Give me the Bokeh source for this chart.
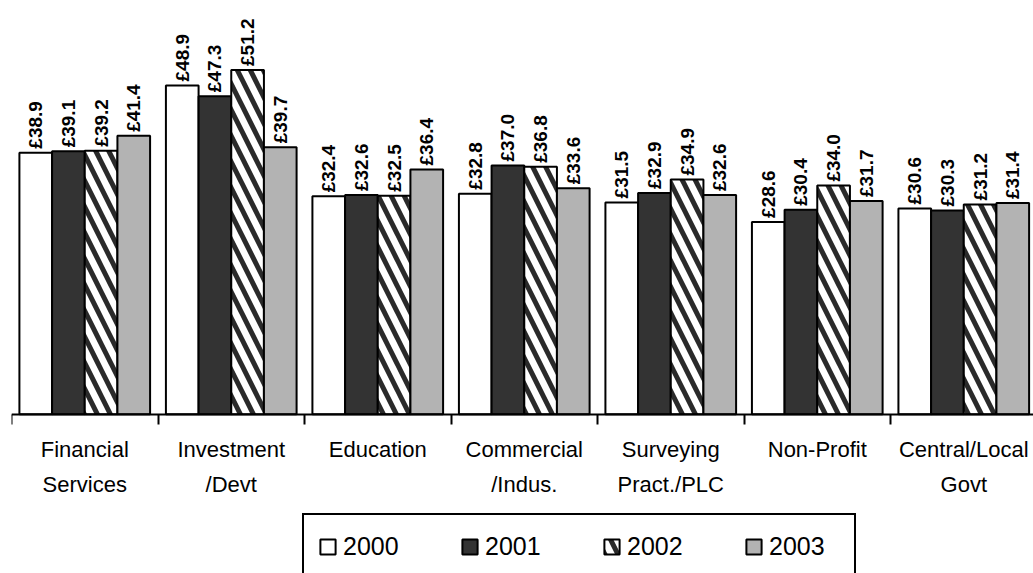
import numpy as np
from bokeh.plotting import figure
from bokeh.models import ColumnDataSource, FixedTicker, Range1d, Legend, LegendItem
from bokeh.transform import dodge
from bokeh.core.properties import value
from bokeh.embed import file_html
from bokeh.resources import INLINE

categories = ["Financial\nServices", "Investment\n/Devt", "Education", "Commercial\n/Indus.",
              "Surveying\nPract./PLC", "Non-Profit", "Central/Local\nGovt"]
years = ["2000", "2001", "2002", "2003"]
v2000 = [38.9, 48.9, 32.4, 32.8, 31.5, 28.6, 30.6]
v2001 = [39.1, 47.3, 32.6, 37.0, 32.9, 30.4, 30.3]
v2002 = [39.2, 51.2, 32.5, 36.8, 34.9, 34.0, 31.2]
v2003 = [41.4, 39.7, 36.4, 33.6, 32.6, 31.7, 31.4]
series = [v2000, v2001, v2002, v2003]

xs = [i + 0.5 for i in range(len(categories))]
data = {"x": xs, "cat": categories}
for y, vals in zip(years, series):
    data["v" + y] = vals
    data["l" + y] = ["£%.1f" % v for v in vals]
src = ColumnDataSource(data)

p = figure(width=1033, height=573, x_range=Range1d(0, 6.976), y_range=Range1d(-23.7, 59.9),
           output_backend="svg", toolbar_location=None, y_axis_location=None,
           min_border_left=11, min_border_right=0, min_border_top=11, min_border_bottom=0)
p.xgrid.visible = False
p.ygrid.visible = False
p.outline_line_color = None
p.background_fill_color = "white"
p.border_fill_color = "white"

bw = 0.223
offsets = [-1.5 * bw, -0.5 * bw, 0.5 * bw, 1.5 * bw]
styles = [
    dict(fill_color="white"),
    dict(fill_color="#333333"),
    dict(fill_color="white", hatch_pattern="\\", hatch_color="#2a2a2a", hatch_scale=26, hatch_weight=5),
    dict(fill_color="#b3b3b3"),
]
renderers = []
for y, off, st in zip(years, offsets, styles):
    r = p.vbar(x=dodge("x", off, range=p.x_range), top="v" + y, width=bw, source=src,
               line_color="black", line_width=2, **st)
    renderers.append(r)
    p.text(x=dodge("x", off, range=p.x_range), y="v" + y, text="l" + y, source=src,
           angle=np.pi / 2, text_align="left", text_baseline="middle", y_offset=-4,
           text_font=value("Liberation Sans"), text_font_style="bold",
           text_font_size="19px", text_color="black")

# x axis sitting on y = 0, ticks between the categories
ax = p.xaxis[0]
ax.fixed_location = 0
ax.ticker = FixedTicker(ticks=xs, minor_ticks=list(range(len(categories) + 1)))
ax.major_label_overrides = {x: "" for x in xs}
ax.major_label_text_font_size = "1px"
ax.major_label_standoff = 0
ax.major_tick_line_color = None
ax.major_tick_out = 0
ax.major_tick_in = 0
ax.minor_tick_out = 10
ax.minor_tick_in = 0
ax.minor_tick_line_color = "black"
ax.minor_tick_line_width = 2
ax.axis_line_color = "black"
ax.axis_line_width = 2

# category labels under the axis
p.text(x="x", y=0, text="cat", source=src, y_offset=23,
       text_align="center", text_baseline="top", line_height=1.4,
       text_font=value("Liberation Sans"), text_font_size="22px", text_color="black")

legend = Legend(items=[LegendItem(label=y, renderers=[r]) for y, r in zip(years, renderers)],
                orientation="horizontal", location=(291, -6),
                glyph_width=19, glyph_height=19, label_standoff=6, spacing=46,
                label_width=71, label_height=34, padding=14, margin=0,
                label_text_font="Liberation Sans", label_text_font_size="25px",
                label_text_color="black", background_fill_color="white",
                border_line_color="black", border_line_width=2, border_line_alpha=1.0)
p.add_layout(legend)

open("out.html", "w").write(file_html(p, INLINE))
